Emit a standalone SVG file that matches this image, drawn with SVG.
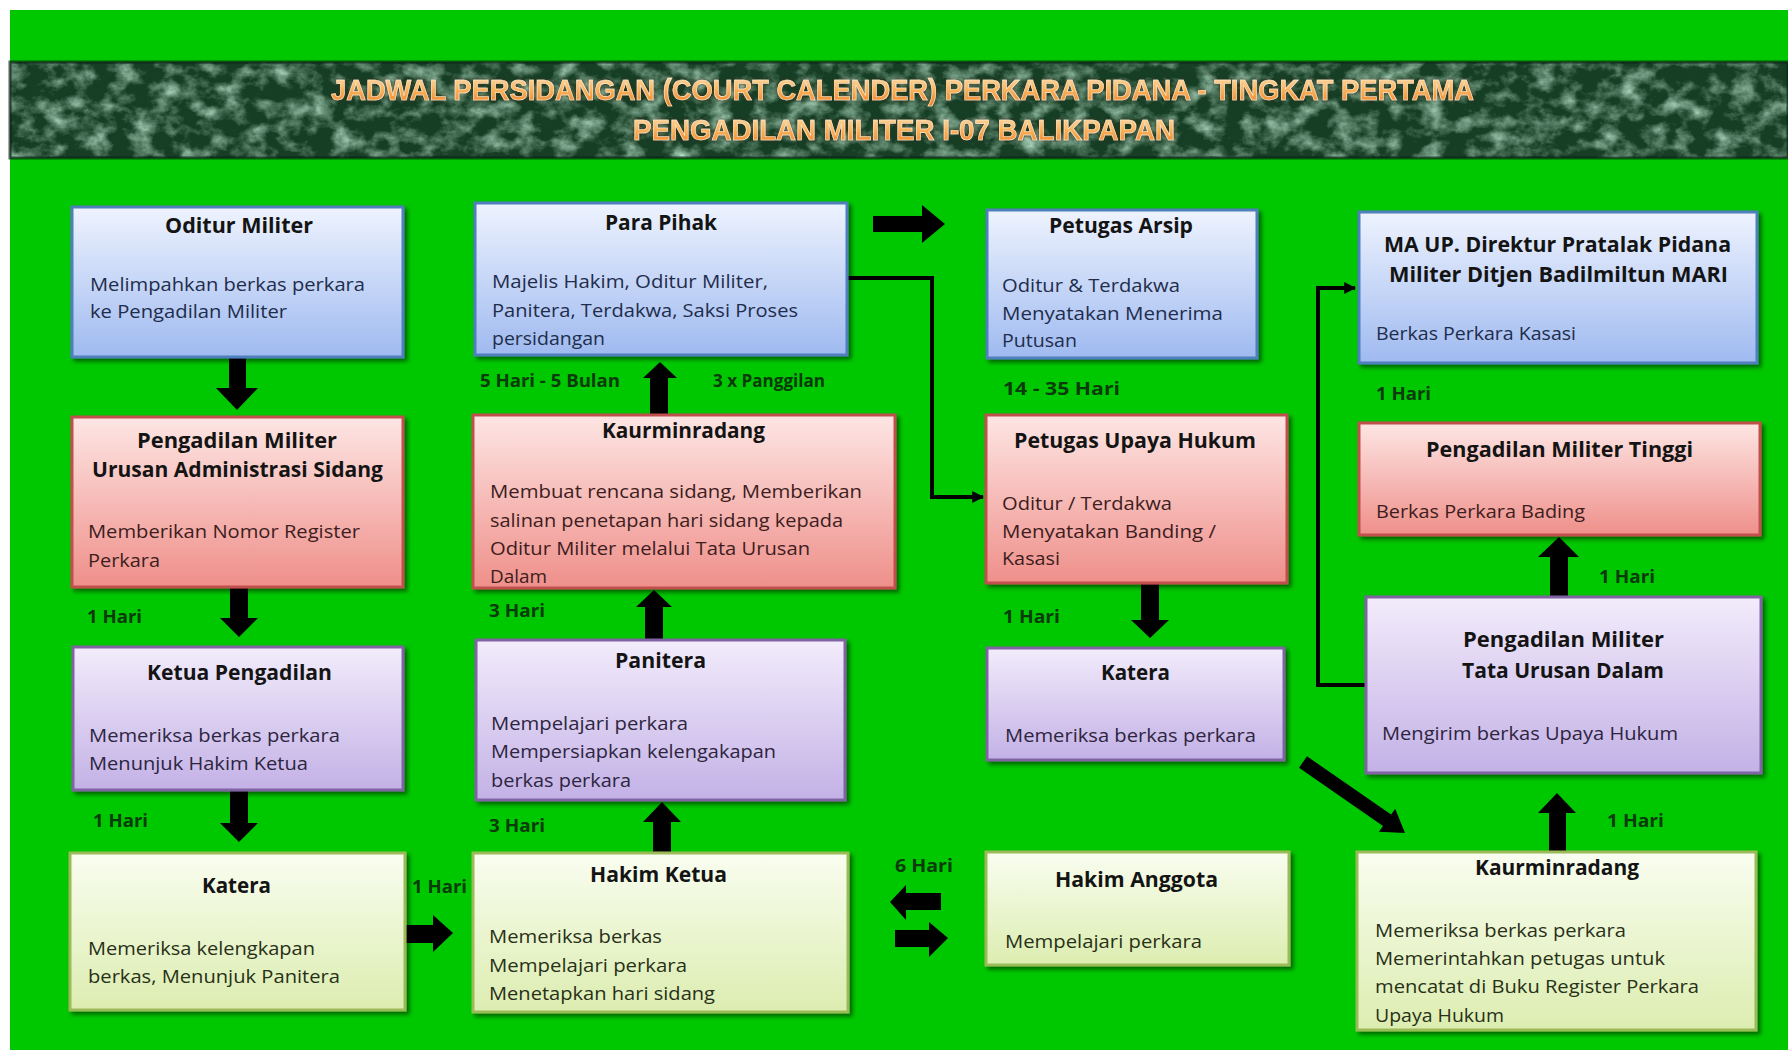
<svg xmlns="http://www.w3.org/2000/svg" width="1788" height="1055" viewBox="0 0 1788 1055">
<defs>
  <linearGradient id="gBlue" x1="0" y1="0" x2="0" y2="1"><stop offset="0" stop-color="#eef3fe"/><stop offset="1" stop-color="#9fbaf0"/></linearGradient>
  <linearGradient id="gRed" x1="0" y1="0" x2="0" y2="1"><stop offset="0" stop-color="#fde6e4"/><stop offset="1" stop-color="#ef8f8a"/></linearGradient>
  <linearGradient id="gPurple" x1="0" y1="0" x2="0" y2="1"><stop offset="0" stop-color="#f2ecfb"/><stop offset="1" stop-color="#c3b1e6"/></linearGradient>
  <linearGradient id="gYellow" x1="0" y1="0" x2="0" y2="1"><stop offset="0" stop-color="#f9fdf0"/><stop offset="1" stop-color="#dcedb0"/></linearGradient>
  <linearGradient id="gTitle" x1="0" y1="0" x2="0" y2="1"><stop offset="0" stop-color="#ffe3b8"/><stop offset="0.5" stop-color="#fbb45c"/><stop offset="1" stop-color="#ee7f22"/></linearGradient>
  <filter id="shadow" x="-5%" y="-5%" width="115%" height="120%">
    <feDropShadow dx="3" dy="3" stdDeviation="2" flood-color="#000" flood-opacity="0.5"/>
  </filter>
  <filter id="marble" x="0" y="0" width="100%" height="100%">
    <feTurbulence type="fractalNoise" baseFrequency="0.045 0.06" numOctaves="5" seed="11"/>
    <feColorMatrix type="matrix" values="0 0 0 0 0.42  0 0 0 0 0.68  0 0 0 0 0.52  0 0 0 1.9 -0.78"/>
  </filter>
  <filter id="glow" x="-2%" y="-20%" width="104%" height="140%">
    <feDropShadow dx="0" dy="0" stdDeviation="1.5" flood-color="#5a2a00" flood-opacity="0.9"/>
  </filter>
  <marker id="tri" viewBox="0 0 10 10" refX="9" refY="5" markerWidth="12" markerHeight="12" markerUnits="userSpaceOnUse" orient="auto">
    <path d="M0,0 L10,5 L0,10 Z" fill="#000"/>
  </marker>
  <style>
    .box { stroke-width: 3; filter: url(#shadow); }
    .blue { fill: url(#gBlue); stroke: #4f7fbc; }
    .red { fill: url(#gRed); stroke: #c0504d; }
    .purple { fill: url(#gPurple); stroke: #8064a2; }
    .yellow { fill: url(#gYellow); stroke: #9bbb59; }
    .t { font-family: "Open Sans", "Liberation Sans", sans-serif; font-weight: bold; font-size: 22px; fill: #141414; text-anchor: middle; }
    .b { font-family: "Open Sans", "Liberation Sans", sans-serif; font-size: 19px; }
    .bb { fill: #1f2d4c; }
    .br { fill: #3d1d1d; }
    .bp { fill: #2d2540; }
    .by { fill: #283018; }
    .lbl { font-family: "Open Sans", "Liberation Sans", sans-serif; font-weight: bold; font-size: 17px; fill: #0b3a0b; }
    .banner { font-family: "Liberation Sans", "Open Sans", sans-serif; font-weight: bold; font-size: 30px; fill: url(#gTitle); stroke: #fff2dc; stroke-width: 0.6; }
    .blk { fill: #000; }
    .ln { fill: none; stroke: #000; stroke-width: 4; }
  </style>
</defs>

<rect x="0" y="0" width="1788" height="1055" fill="#ffffff"/>
<rect x="10" y="10" width="1778" height="1040" fill="#00c800"/>

<g id="banner">
  <rect x="10" y="62" width="1778" height="96" fill="#163e25"/>
  <rect x="10" y="62" width="1778" height="96" filter="url(#marble)"/>
  <rect x="10" y="62" width="1778" height="96" fill="none" stroke="#0b2414" stroke-width="3" opacity="0.7"/>
  <g filter="url(#glow)">
    <text class="banner" x="331" y="100" textLength="1143" lengthAdjust="spacingAndGlyphs">JADWAL PERSIDANGAN (COURT CALENDER) PERKARA PIDANA - TINGKAT PERTAMA</text>
    <text class="banner" x="633" y="140" textLength="542" lengthAdjust="spacingAndGlyphs">PENGADILAN MILITER I-07 BALIKPAPAN</text>
  </g>
</g>

<g id="connectors">
  <path class="blk" d="M229,358 H246 V388 H258 L237,410 L216,388 H229 Z"/>
  <path class="blk" d="M230,588 H248 V618 H258 L239,637 L220,618 H230 Z"/>
  <path class="blk" d="M230,791 H248 V823 H258 L239,842 L220,823 H230 Z"/>
  <path class="blk" d="M404,925 H433 V915 L453,933 L433,952 V943 H404 Z"/>
  <path class="blk" d="M653,853 V822 H643 L662,802 L681,822 H671 V853 Z"/>
  <path class="blk" d="M645,640 V607 H636 L654,590 L672,607 H663 V640 Z"/>
  <path class="blk" d="M650,415 V378 H643 L660,362 L677,378 H668 V415 Z"/>
  <path class="blk" d="M873,216 H922 V205 L945,224 L922,243 V232 H873 Z"/>
  <path class="blk" d="M1141,584 H1159 V620 H1169 L1150,638 L1131,620 H1141 Z"/>
  <path class="blk" d="M1549,851 V813 H1538 L1557,793 L1576,813 H1566 V851 Z"/>
  <path class="blk" d="M1550,597 V557 H1538 L1559,537 L1579,557 H1568 V597 Z"/>
  <path class="blk" d="M941,893 H906 V885 L890,902 L906,920 V910 H941 Z"/>
  <path class="blk" d="M895,930 H929 V922 L948,938 L929,957 V947 H895 Z"/>
  <path class="blk" d="M1307,756.3 L1391.1,814.6 L1395.2,808.8 L1405,833 L1378.9,831.7 L1383,826 L1299,767.7 Z"/>
  <path class="ln" d="M847,278 H932 V497 H983" marker-end="url(#tri)"/>
  <path class="ln" d="M1366,685 H1318 V288 H1355" marker-end="url(#tri)"/>
</g>

<g id="labels">
  <text class="lbl" x="87" y="623" textLength="55" lengthAdjust="spacingAndGlyphs">1 Hari</text>
  <text class="lbl" x="93" y="827" textLength="55" lengthAdjust="spacingAndGlyphs">1 Hari</text>
  <text class="lbl" x="412" y="893" textLength="55" lengthAdjust="spacingAndGlyphs">1 Hari</text>
  <text class="lbl" x="480" y="387" textLength="140" lengthAdjust="spacingAndGlyphs">5 Hari - 5 Bulan</text>
  <text class="lbl" x="713" y="387" textLength="112" lengthAdjust="spacingAndGlyphs">3 x Panggilan</text>
  <text class="lbl" x="489" y="617" textLength="56" lengthAdjust="spacingAndGlyphs">3 Hari</text>
  <text class="lbl" x="489" y="832" textLength="56" lengthAdjust="spacingAndGlyphs">3 Hari</text>
  <text class="lbl" x="895" y="872" textLength="58" lengthAdjust="spacingAndGlyphs">6 Hari</text>
  <text class="lbl" x="1003" y="395" textLength="117" lengthAdjust="spacingAndGlyphs">14 - 35 Hari</text>
  <text class="lbl" x="1003" y="623" textLength="57" lengthAdjust="spacingAndGlyphs">1 Hari</text>
  <text class="lbl" x="1376" y="400" textLength="55" lengthAdjust="spacingAndGlyphs">1 Hari</text>
  <text class="lbl" x="1599" y="583" textLength="56" lengthAdjust="spacingAndGlyphs">1 Hari</text>
  <text class="lbl" x="1607" y="827" textLength="57" lengthAdjust="spacingAndGlyphs">1 Hari</text>
</g>

<g id="oditur-militer">
  <rect class="box blue" x="72" y="207" width="331" height="150"/>
  <text class="t" x="239" y="233" textLength="148" lengthAdjust="spacingAndGlyphs">Oditur Militer</text>
  <text class="b bb" x="90" y="291" textLength="275" lengthAdjust="spacingAndGlyphs">Melimpahkan  berkas perkara</text>
  <text class="b bb" x="90" y="318" textLength="197" lengthAdjust="spacingAndGlyphs">ke Pengadilan Militer</text>
</g>

<g id="pengadilan-militer-uas">
  <rect class="box red" x="72" y="417" width="331" height="170"/>
  <text class="t" x="237" y="448" textLength="200" lengthAdjust="spacingAndGlyphs">Pengadilan Militer</text>
  <text class="t" x="237.5" y="477" textLength="291" lengthAdjust="spacingAndGlyphs">Urusan Administrasi Sidang</text>
  <text class="b br" x="88" y="538" textLength="272" lengthAdjust="spacingAndGlyphs">Memberikan Nomor  Register</text>
  <text class="b br" x="88" y="567" textLength="72" lengthAdjust="spacingAndGlyphs">Perkara</text>
</g>

<g id="ketua-pengadilan">
  <rect class="box purple" x="73" y="647" width="330" height="143"/>
  <text class="t" x="239.5" y="680" textLength="185" lengthAdjust="spacingAndGlyphs">Ketua Pengadilan</text>
  <text class="b bp" x="89" y="742" textLength="251" lengthAdjust="spacingAndGlyphs">Memeriksa berkas perkara</text>
  <text class="b bp" x="89" y="770" textLength="219" lengthAdjust="spacingAndGlyphs">Menunjuk Hakim  Ketua</text>
</g>

<g id="katera-1">
  <rect class="box yellow" x="70" y="853" width="335" height="157"/>
  <text class="t" x="236.5" y="893" textLength="69" lengthAdjust="spacingAndGlyphs">Katera</text>
  <text class="b by" x="88" y="955" textLength="227" lengthAdjust="spacingAndGlyphs">Memeriksa kelengkapan</text>
  <text class="b by" x="88" y="983" textLength="252" lengthAdjust="spacingAndGlyphs">berkas, Menunjuk  Panitera</text>
</g>

<g id="para-pihak">
  <rect class="box blue" x="475" y="203" width="372" height="152"/>
  <text class="t" x="661" y="230" textLength="112" lengthAdjust="spacingAndGlyphs">Para Pihak</text>
  <text class="b bb" x="492" y="288" textLength="276" lengthAdjust="spacingAndGlyphs">Majelis Hakim,  Oditur Militer,</text>
  <text class="b bb" x="492" y="317" textLength="306" lengthAdjust="spacingAndGlyphs">Panitera, Terdakwa, Saksi Proses</text>
  <text class="b bb" x="492" y="345" textLength="113" lengthAdjust="spacingAndGlyphs">persidangan</text>
</g>

<g id="kaurminradang-1">
  <rect class="box red" x="473" y="415" width="422" height="173"/>
  <text class="t" x="683.5" y="438" textLength="163" lengthAdjust="spacingAndGlyphs">Kaurminradang</text>
  <text class="b br" x="490" y="498" textLength="372" lengthAdjust="spacingAndGlyphs">Membuat rencana sidang,  Memberikan</text>
  <text class="b br" x="490" y="527" textLength="353" lengthAdjust="spacingAndGlyphs">salinan penetapan  hari sidang kepada</text>
  <text class="b br" x="490" y="555" textLength="320" lengthAdjust="spacingAndGlyphs">Oditur Militer melalui Tata  Urusan</text>
  <text class="b br" x="490" y="583" textLength="57" lengthAdjust="spacingAndGlyphs">Dalam</text>
</g>

<g id="panitera">
  <rect class="box purple" x="476" y="640" width="369" height="160"/>
  <text class="t" x="660.5" y="668" textLength="91" lengthAdjust="spacingAndGlyphs">Panitera</text>
  <text class="b bp" x="491" y="730" textLength="197" lengthAdjust="spacingAndGlyphs">Mempelajari perkara</text>
  <text class="b bp" x="491" y="758" textLength="285" lengthAdjust="spacingAndGlyphs">Mempersiapkan kelengakapan</text>
  <text class="b bp" x="491" y="787" textLength="140" lengthAdjust="spacingAndGlyphs">berkas perkara</text>
</g>

<g id="hakim-ketua">
  <rect class="box yellow" x="473" y="853" width="375" height="159"/>
  <text class="t" x="658.5" y="882" textLength="137" lengthAdjust="spacingAndGlyphs">Hakim Ketua</text>
  <text class="b by" x="489" y="943" textLength="173" lengthAdjust="spacingAndGlyphs">Memeriksa berkas</text>
  <text class="b by" x="489" y="972" textLength="198" lengthAdjust="spacingAndGlyphs">Mempelajari perkara</text>
  <text class="b by" x="489" y="1000" textLength="226" lengthAdjust="spacingAndGlyphs">Menetapkan hari sidang</text>
</g>

<g id="petugas-arsip">
  <rect class="box blue" x="987" y="210" width="270" height="148"/>
  <text class="t" x="1121" y="233" textLength="144" lengthAdjust="spacingAndGlyphs">Petugas Arsip</text>
  <text class="b bb" x="1002" y="292" textLength="178" lengthAdjust="spacingAndGlyphs">Oditur &amp; Terdakwa</text>
  <text class="b bb" x="1002" y="320" textLength="221" lengthAdjust="spacingAndGlyphs">Menyatakan  Menerima</text>
  <text class="b bb" x="1002" y="347" textLength="75" lengthAdjust="spacingAndGlyphs">Putusan</text>
</g>

<g id="petugas-upaya-hukum">
  <rect class="box red" x="986" y="415" width="301" height="168"/>
  <text class="t" x="1135" y="448" textLength="242" lengthAdjust="spacingAndGlyphs">Petugas Upaya Hukum</text>
  <text class="b br" x="1002" y="510" textLength="170" lengthAdjust="spacingAndGlyphs">Oditur / Terdakwa</text>
  <text class="b br" x="1002" y="538" textLength="214" lengthAdjust="spacingAndGlyphs">Menyatakan  Banding /</text>
  <text class="b br" x="1002" y="565" textLength="58" lengthAdjust="spacingAndGlyphs">Kasasi</text>
</g>

<g id="katera-2">
  <rect class="box purple" x="987" y="648" width="297" height="112"/>
  <text class="t" x="1135.5" y="680" textLength="69" lengthAdjust="spacingAndGlyphs">Katera</text>
  <text class="b bp" x="1005" y="742" textLength="251" lengthAdjust="spacingAndGlyphs">Memeriksa berkas perkara</text>
</g>

<g id="hakim-anggota">
  <rect class="box yellow" x="986" y="852" width="303" height="113"/>
  <text class="t" x="1136.5" y="887" textLength="163" lengthAdjust="spacingAndGlyphs">Hakim Anggota</text>
  <text class="b by" x="1005" y="948" textLength="197" lengthAdjust="spacingAndGlyphs">Mempelajari perkara</text>
</g>

<g id="ma-up-direktur">
  <rect class="box blue" x="1359" y="212" width="398" height="151"/>
  <text class="t" x="1557.5" y="252" textLength="347" lengthAdjust="spacingAndGlyphs">MA UP. Direktur Pratalak Pidana</text>
  <text class="t" x="1558.5" y="282" textLength="339" lengthAdjust="spacingAndGlyphs">Militer Ditjen Badilmiltun MARI</text>
  <text class="b bb" x="1376" y="340" textLength="200" lengthAdjust="spacingAndGlyphs">Berkas Perkara Kasasi</text>
</g>

<g id="pengadilan-militer-tinggi">
  <rect class="box red" x="1359" y="423" width="401" height="112"/>
  <text class="t" x="1559.5" y="457" textLength="267" lengthAdjust="spacingAndGlyphs">Pengadilan Militer Tinggi</text>
  <text class="b br" x="1376" y="518" textLength="209" lengthAdjust="spacingAndGlyphs">Berkas Perkara Bading</text>
</g>

<g id="pengadilan-militer-tud">
  <rect class="box purple" x="1366" y="597" width="395" height="176"/>
  <text class="t" x="1563.5" y="647" textLength="201" lengthAdjust="spacingAndGlyphs">Pengadilan Militer</text>
  <text class="t" x="1563" y="678" textLength="202" lengthAdjust="spacingAndGlyphs">Tata Urusan Dalam</text>
  <text class="b bp" x="1382" y="740" textLength="296" lengthAdjust="spacingAndGlyphs">Mengirim berkas Upaya Hukum</text>
</g>

<g id="kaurminradang-2">
  <rect class="box yellow" x="1357" y="852" width="399" height="178"/>
  <text class="t" x="1557" y="875" textLength="164" lengthAdjust="spacingAndGlyphs">Kaurminradang</text>
  <text class="b by" x="1375" y="937" textLength="251" lengthAdjust="spacingAndGlyphs">Memeriksa berkas perkara</text>
  <text class="b by" x="1375" y="965" textLength="290" lengthAdjust="spacingAndGlyphs">Memerintahkan petugas untuk</text>
  <text class="b by" x="1375" y="993" textLength="324" lengthAdjust="spacingAndGlyphs">mencatat di Buku Register Perkara</text>
  <text class="b by" x="1375" y="1022" textLength="129" lengthAdjust="spacingAndGlyphs">Upaya Hukum</text>
</g>
</svg>
